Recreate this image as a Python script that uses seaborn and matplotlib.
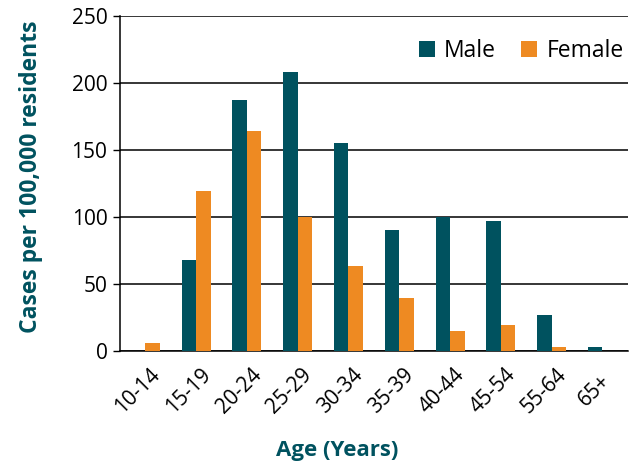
import pandas as pd
import matplotlib.pyplot as plt
import matplotlib.transforms as mtransforms
import seaborn as sns

# === DATA ===
age_groups = ['10-14', '15-19', '20-24', '25-29', '30-34', '35-39',
              '40-44', '45-54', '55-64', '65+']
male = [0, 68, 187, 208, 155, 90, 100, 97, 26.5, 2.5]
female = [5.5, 119.5, 164, 100, 63.5, 39.5, 14.5, 19.5, 2.5, 0]

df = pd.DataFrame({'Age': age_groups, 'Male': male, 'Female': female})
df_long = df.melt(id_vars='Age', var_name='Sex', value_name='Rate')

# === PLOT ===
sns.set_style('white')
plt.rcParams['font.family'] = ['Open Sans', 'DejaVu Sans']
plt.rcParams['text.color'] = 'black'
plt.rcParams['xtick.color'] = 'black'
plt.rcParams['ytick.color'] = 'black'

fig = plt.figure(figsize=(6.31, 4.61), dpi=100)
ax = fig.add_axes([0.19, 0.239, 0.805, 0.726])

teal = '#00525F'
orange = '#EE8A22'
sns.barplot(data=df_long, x='Age', y='Rate', hue='Sex',
            palette={'Male': teal, 'Female': orange},
            width=0.57, gap=0, saturation=1, linewidth=0, ax=ax, zorder=3)

ax.set_ylim(0, 250)
ax.set_yticks(range(0, 251, 50))
ax.set_xlim(-0.5, len(age_groups) - 0.5)
ax.yaxis.grid(True, color='black', linewidth=1.1, zorder=0)
ax.set_axisbelow(True)

for side in ['top', 'right']:
    ax.spines[side].set_visible(False)
for side in ['left', 'bottom']:
    ax.spines[side].set_color('black')
    ax.spines[side].set_linewidth(1.1)

ax.tick_params(axis='y', length=5, width=1, labelsize=15,
               direction='out', left=True, pad=4)
ax.tick_params(axis='x', length=0, labelsize=15, pad=0)
# labels centred slightly left of each category, below the axis
offset = mtransforms.ScaledTranslation(-8 / 100, -40 / 100, fig.dpi_scale_trans)
for lbl in ax.get_xticklabels():
    lbl.set_rotation(45)
    lbl.set_ha('center')
    lbl.set_va('center')
    lbl.set_rotation_mode('anchor')
    lbl.set_transform(lbl.get_transform() + offset)

ax.set_xlabel('Age (Years)', fontsize=16, fontweight='bold', color=teal)
ax.xaxis.set_label_coords(0.427, -0.265)
ax.set_ylabel('Cases per 100,000 residents', fontsize=16.5, fontweight='bold',
              color=teal)
ax.yaxis.set_label_coords(-0.151, 0.52)

leg = ax.legend(loc='upper right', ncol=2, frameon=False, fontsize=16.5,
                handlelength=0.7, handleheight=0.7, handletextpad=0.4,
                columnspacing=1.1, bbox_to_anchor=(1.01, 0.96),
                borderaxespad=0.0)

fig.savefig('out.png', dpi=100)
